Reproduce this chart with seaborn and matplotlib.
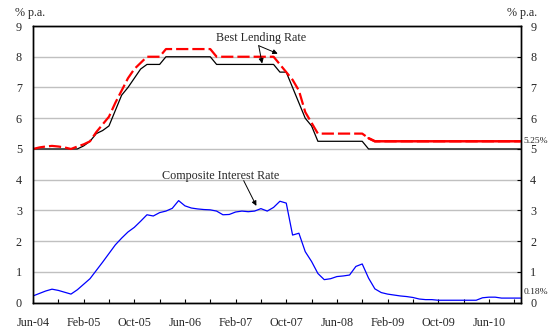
import numpy as np
import pandas as pd
import matplotlib
matplotlib.use('Agg')
import matplotlib.pyplot as plt
import seaborn as sns

# ---- data (monthly, Jun-04 .. Nov-10) ----
months = pd.date_range('2004-06-01', periods=78, freq='MS')

blr_low = ([5.0] * 8 + [5.1, 5.25, 5.5, 5.6, 5.75, 6.25, 6.75, 7.0, 7.3, 7.6, 7.75, 7.75, 7.75]
           + [8.0] * 8 + [7.75] * 10 + [7.5, 7.5, 7.0, 6.5, 6.0, 5.75]
           + [5.25] * 8 + [5.0] * 25)

blr_high = ([5.0, 5.05, 5.08, 5.1, 5.08, 5.05, 5.0, 5.08, 5.15, 5.25, 5.55, 5.8, 6.05,
             6.5, 6.9, 7.3, 7.6, 7.8, 8.0, 8.0, 8.0]
            + [8.25] * 8 + [8.0] * 10 + [7.75, 7.5, 7.25, 6.9, 6.2, 5.85]
            + [5.5] * 8 + [5.35] + [5.25] * 24)

composite = [0.22, 0.30, 0.38, 0.44, 0.40, 0.34, 0.28, 0.42, 0.60, 0.78,
             1.05, 1.32, 1.60, 1.88, 2.10, 2.30, 2.45, 2.65, 2.86, 2.82,
             2.93, 2.98, 3.07, 3.32, 3.15, 3.08, 3.05, 3.03, 3.02, 2.98,
             2.86, 2.87, 2.95, 2.98, 2.96, 2.98, 3.06, 2.98, 3.10, 3.30,
             3.24, 2.20, 2.26, 1.66, 1.34, 0.95, 0.75, 0.78, 0.85, 0.87,
             0.90, 1.18, 1.26, 0.80, 0.45, 0.33, 0.28, 0.25, 0.22, 0.20,
             0.17, 0.12, 0.10, 0.10, 0.08, 0.08, 0.08, 0.08, 0.08, 0.08,
             0.08, 0.16, 0.18, 0.18, 0.15, 0.15, 0.15, 0.15]

y_ticks = list(range(0, 10))
end_labels = ['5.25%', '0.18%']

month_labels = [d.strftime('%b-%y') for d in months]
df = pd.DataFrame({'m': np.arange(len(months)), 'low': blr_low,
                   'high': blr_high, 'comp': composite})

sns.set_theme(style='white')
plt.rcParams['font.family'] = ['Liberation Serif', 'DejaVu Serif']
FS = 8.7

fig = plt.figure(figsize=(5.54, 3.32), dpi=100)
ax = fig.add_axes([33 / 554, 1 - 302.7 / 332, 487.5 / 554, (302.7 - 26) / 332])

# grid
ax.set_ylim(0, 9)
ax.set_xlim(0, len(months) - 1)
ax.set_yticks(y_ticks)
ax.yaxis.grid(True, color='#c0c0c0', lw=1.0)
ax.xaxis.grid(False)
ax.set_axisbelow(True)

sns.lineplot(data=df, x='m', y='low', ax=ax, color='black', lw=0.9)
sns.lineplot(data=df, x='m', y='high', ax=ax, color='#ff0000', lw=1.6,
             dashes=False, linestyle=(0, (5.5, 1.8)))
solid_part = df[df['m'] >= 53]
sns.lineplot(data=solid_part, x='m', y='high', ax=ax, color='#ff0000', lw=1.8)
sns.lineplot(data=df, x='m', y='comp', ax=ax, color='#0000ff', lw=0.9)

ax.set_xlabel('')
ax.set_ylabel('')

# x ticks
major = np.arange(0, len(months), 8)
minor = np.arange(4, len(months), 8)
ax.set_xticks(major)
ax.set_xticklabels([month_labels[i] for i in major], fontsize=FS)
ax.set_xticks(minor, minor=True)
ax.tick_params(axis='x', which='both', direction='in', length=3, width=0.8,
               color='black', pad=10, bottom=True)
ax.tick_params(axis='y', which='both', left=False, length=0, pad=8, labelsize=FS)
ax.set_yticklabels([str(v) for v in y_ticks], fontsize=FS)

for s in ax.spines.values():
    s.set_color('black')
    s.set_linewidth(1.0)

ax2 = ax.twinx()
ax2.set_ylim(0, 9)
ax2.set_yticks(y_ticks)
ax2.set_yticklabels([str(v) for v in y_ticks], fontsize=FS)
ax2.tick_params(axis='y', direction='in', length=3, width=0.8, color='black', pad=7)
ax2.grid(False)
for s in ax2.spines.values():
    s.set_color('black')
    s.set_linewidth(1.0)

# unit labels
fig.text(15 / 554, 1 - 13 / 332, '% p.a.', fontsize=FS, ha='left', va='center')
fig.text(537 / 554, 1 - 13 / 332, '% p.a.', fontsize=FS, ha='right', va='center')

# end labels
ax2.annotate(end_labels[0], xy=(1, 5.25), xycoords=('axes fraction', 'data'),
             xytext=(2, 0), textcoords='offset points', fontsize=6.8,
             ha='left', va='center')
ax2.annotate(end_labels[1], xy=(1, 0.36), xycoords=('axes fraction', 'data'),
             xytext=(2, 0), textcoords='offset points', fontsize=6.8,
             ha='left', va='center')

# annotations
arrow_kw = dict(arrowstyle='-|>', color='black', lw=0.7, mutation_scale=7,
                shrinkA=0, shrinkB=0)
ax.text(36.08, 8.62, 'Best Lending Rate', fontsize=FS, ha='center', va='center')
ax.annotate('', xy=(38.65, 8.10), xytext=(35.65, 8.36), arrowprops=arrow_kw)
ax.annotate('', xy=(36.19, 7.78), xytext=(35.65, 8.36), arrowprops=arrow_kw)
ax.text(29.67, 4.13, 'Composite Interest Rate', fontsize=FS, ha='center', va='center')
ax.annotate('', xy=(35.28, 3.15), xytext=(33.28, 3.97), arrowprops=arrow_kw)

fig.savefig('out.png', dpi=100)
